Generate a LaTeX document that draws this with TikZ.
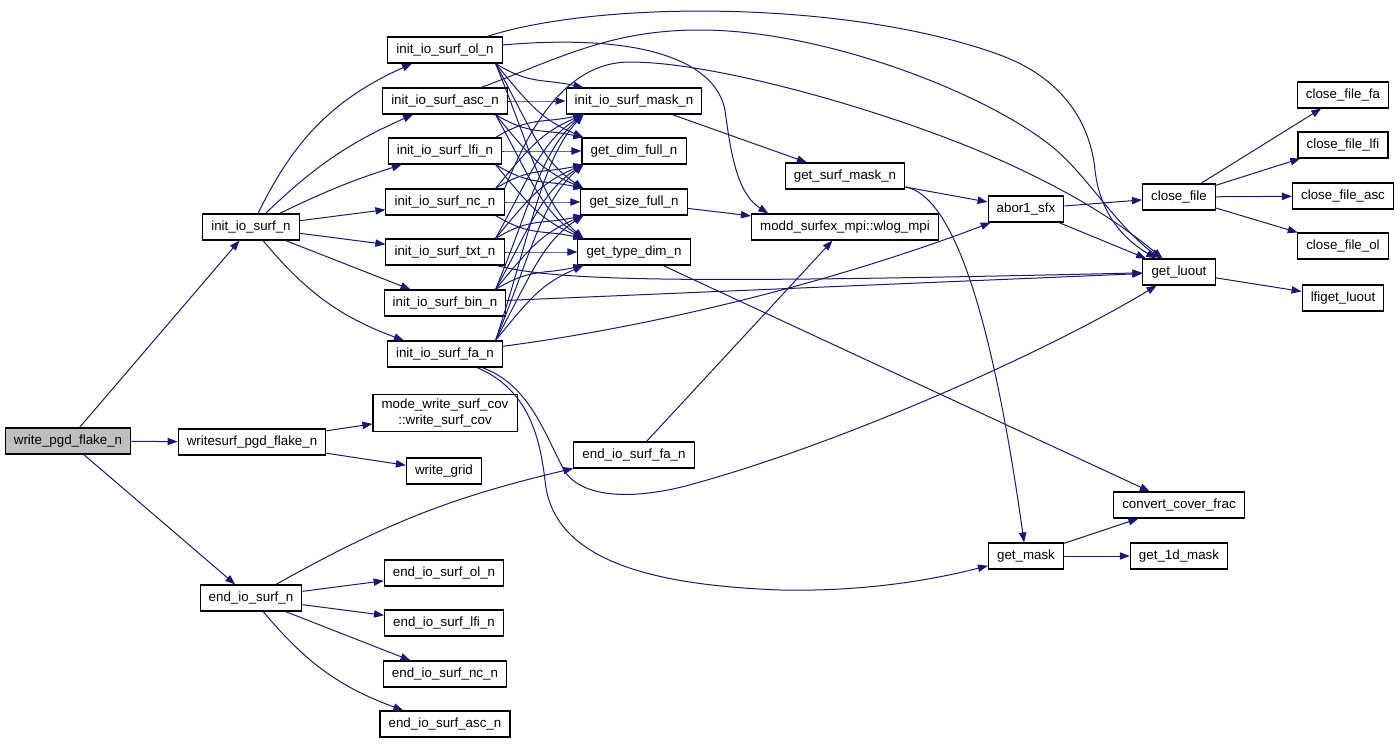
\documentclass[tikz,border=0pt]{standalone}
\usepackage{fontspec}
\setmainfont{Liberation Sans}
\usepackage{xcolor}
\usetikzlibrary{arrows.meta}
\definecolor{calledge}{HTML}{191970}

\begin{document}
\begin{tikzpicture}[x=0.75pt, y=-0.75pt,
	fn/.style={draw, fill=white, line width=0.8pt, minimum height=19.5pt, inner xsep=6.5pt, inner ysep=2pt, font=\fontsize{10}{12}\selectfont},
	call/.style={draw=calledge, line width=0.75pt, -{Triangle[length=7.5pt,width=5.5pt]}}]
	\useasboundingbox (0,0) rectangle (1400,743);

	\node[fn, fill=gray!50] (wpgd) at (68,441) {write\_pgd\_flake\_n};
	\node[fn] (wsurf) at (252,442) {writesurf\_pgd\_flake\_n};
	\node[fn] (iosurf) at (251,227) {init\_io\_surf\_n};
	\node[fn] (eosurf) at (251,598) {end\_io\_surf\_n};

	\node[fn, align=center, inner ysep=3pt] (wcov) at (445,413) {mode\_write\_surf\_cov\\::write\_surf\_cov};
	\node[fn] (wgrid) at (444,471) {write\_grid};

	\node[fn] (iol) at (445,50) {init\_io\_surf\_ol\_n};
	\node[fn] (iasc) at (445,101) {init\_io\_surf\_asc\_n};
	\node[fn] (ilfi) at (445,151) {init\_io\_surf\_lfi\_n};
	\node[fn] (inc) at (445,202) {init\_io\_surf\_nc\_n};
	\node[fn] (itxt) at (445,252) {init\_io\_surf\_txt\_n};
	\node[fn] (ibin) at (445,303) {init\_io\_surf\_bin\_n};
	\node[fn] (ifa) at (445,354) {init\_io\_surf\_fa\_n};

	\node[fn] (eol) at (444,573) {end\_io\_surf\_ol\_n};
	\node[fn] (elfi) at (444,623) {end\_io\_surf\_lfi\_n};
	\node[fn] (enc) at (445,674) {end\_io\_surf\_nc\_n};
	\node[fn] (easc) at (445,724) {end\_io\_surf\_asc\_n};

	\node[fn] (imask) at (634,101) {init\_io\_surf\_mask\_n};
	\node[fn] (gdim) at (634,151) {get\_dim\_full\_n};
	\node[fn] (gsize) at (634,202) {get\_size\_full\_n};
	\node[fn] (gtype) at (634,252) {get\_type\_dim\_n};
	\node[fn] (efa) at (634,455) {end\_io\_surf\_fa\_n};

	\node[fn] (gsmask) at (845,176) {get\_surf\_mask\_n};
	\node[fn] (wlog) at (845,227) {modd\_surfex\_mpi::wlog\_mpi};
	\node[fn] (abor) at (1026,209) {abor1\_sfx};
	\node[fn] (gmask) at (1026,556) {get\_mask};

	\node[fn] (cfile) at (1179,197) {close\_file};
	\node[fn] (gluout) at (1179,272) {get\_luout};
	\node[fn] (ccov) at (1179,505) {convert\_cover\_frac};
	\node[fn] (g1d) at (1179,556) {get\_1d\_mask};

	\node[fn] (cfa) at (1343,95) {close\_file\_fa};
	\node[fn] (clfi) at (1343,145) {close\_file\_lfi};
	\node[fn] (casc) at (1343,196) {close\_file\_asc};
	\node[fn] (col) at (1343,246) {close\_file\_ol};
	\node[fn] (lfiget) at (1343,298) {lfiget\_luout};

	% callers on the left
	\draw[call] (wpgd) -- (iosurf);
	\draw[call] (wpgd) -- (wsurf);
	\draw[call] (wpgd) -- (eosurf);
	\draw[call] (wsurf) -- (wcov);
	\draw[call] (wsurf) -- (wgrid);

	\draw[call] (iosurf) to[bend left=20] (iol);
	\draw[call] (iosurf) to[bend left=10] (iasc);
	\draw[call] (iosurf) to[bend left=4] (ilfi);
	\draw[call] (iosurf) -- (inc);
	\draw[call] (iosurf) -- (itxt);
	\draw[call] (iosurf) -- (ibin);
	\draw[call] (iosurf) to[bend right=15] (ifa);

	\draw[call] (eosurf) to[bend left=8] (efa);
	\draw[call] (eosurf) -- (eol);
	\draw[call] (eosurf) -- (elfi);
	\draw[call] (eosurf) -- (enc);
	\draw[call] (eosurf) to[bend right=15] (easc);

	% every init_io_surf_* calls the same four
	\foreach \s/\ys in {iol/50,iasc/101,ilfi/151,inc/202,itxt/252,ibin/303,ifa/354}
		\foreach \t/\yt in {imask/101,gdim/151,gsize/202,gtype/252} {
			\pgfmathsetmacro\dd{\yt-\ys}
			\pgfmathtruncatemacro\sa{\dd>0 ? -15 : (\dd<0 ? 15 : 0)}
			\pgfmathtruncatemacro\ta{\dd>0 ? 165 : (\dd<0 ? 195 : 180)}
			\draw[call] (\s.\sa) .. controls +(35,0.42*\dd) and +(-42,-0.18*\dd) .. (\t.\ta);
		}

	% long calls to get_luout
	\draw[call] (iol) .. controls (600,0) and (850,0) .. (1000,55) .. controls (1060,77) and (1090,120) .. (1095,170) .. controls (1100,215) and (1125,240) .. (gluout);
	\draw[call] (iasc) .. controls (560,58) and (610,30) .. (700,30) .. controls (820,30) and (980,90) .. (1050,145) .. controls (1085,172) and (1115,225) .. (gluout);
	\draw[call] (inc.north east) .. controls (525,140) and (560,62) .. (630,62) .. controls (720,62) and (900,115) .. (1000,160) .. controls (1060,187) and (1110,215) .. (gluout);
	\draw[call] (itxt) .. controls (560,282) and (700,283) .. (gluout);
	\draw[call] (ibin) -- (gluout);
	\draw[call] (ifa) .. controls (530,385) and (545,435) .. (565,472) .. controls (585,500) and (640,500) .. (700,482) .. controls (850,440) and (1050,350) .. (gluout);

	\draw[call] (iol) .. controls (640,33) and (715,60) .. (725,110) .. controls (732,165) and (740,195) .. (wlog.170);
	\draw[call] (ifa) .. controls (700,320) and (880,265) .. (abor);
	\draw[call] (ifa) .. controls (530,390) and (540,440) .. (545,480) .. controls (552,560) and (650,585) .. (780,590) .. controls (870,592) and (940,578) .. (gmask);

	\draw[call] (imask) -- (gsmask);
	\draw[call] (gsize) -- (wlog);
	\draw[call] (efa) -- (wlog);
	\draw[call] (gtype) -- (ccov);

	\draw[call] (gsmask) -- (abor);
	\draw[call] (gsmask) .. controls (950,195) and (990,300) .. (gmask);
	\draw[call] (abor) -- (cfile);
	\draw[call] (abor) -- (gluout);
	\draw[call] (gmask) -- (ccov);
	\draw[call] (gmask) -- (g1d);

	\draw[call] (cfile) -- (cfa);
	\draw[call] (cfile) -- (clfi);
	\draw[call] (cfile) -- (casc);
	\draw[call] (cfile) -- (col);
	\draw[call] (gluout) -- (lfiget);
\end{tikzpicture}
\end{document}
